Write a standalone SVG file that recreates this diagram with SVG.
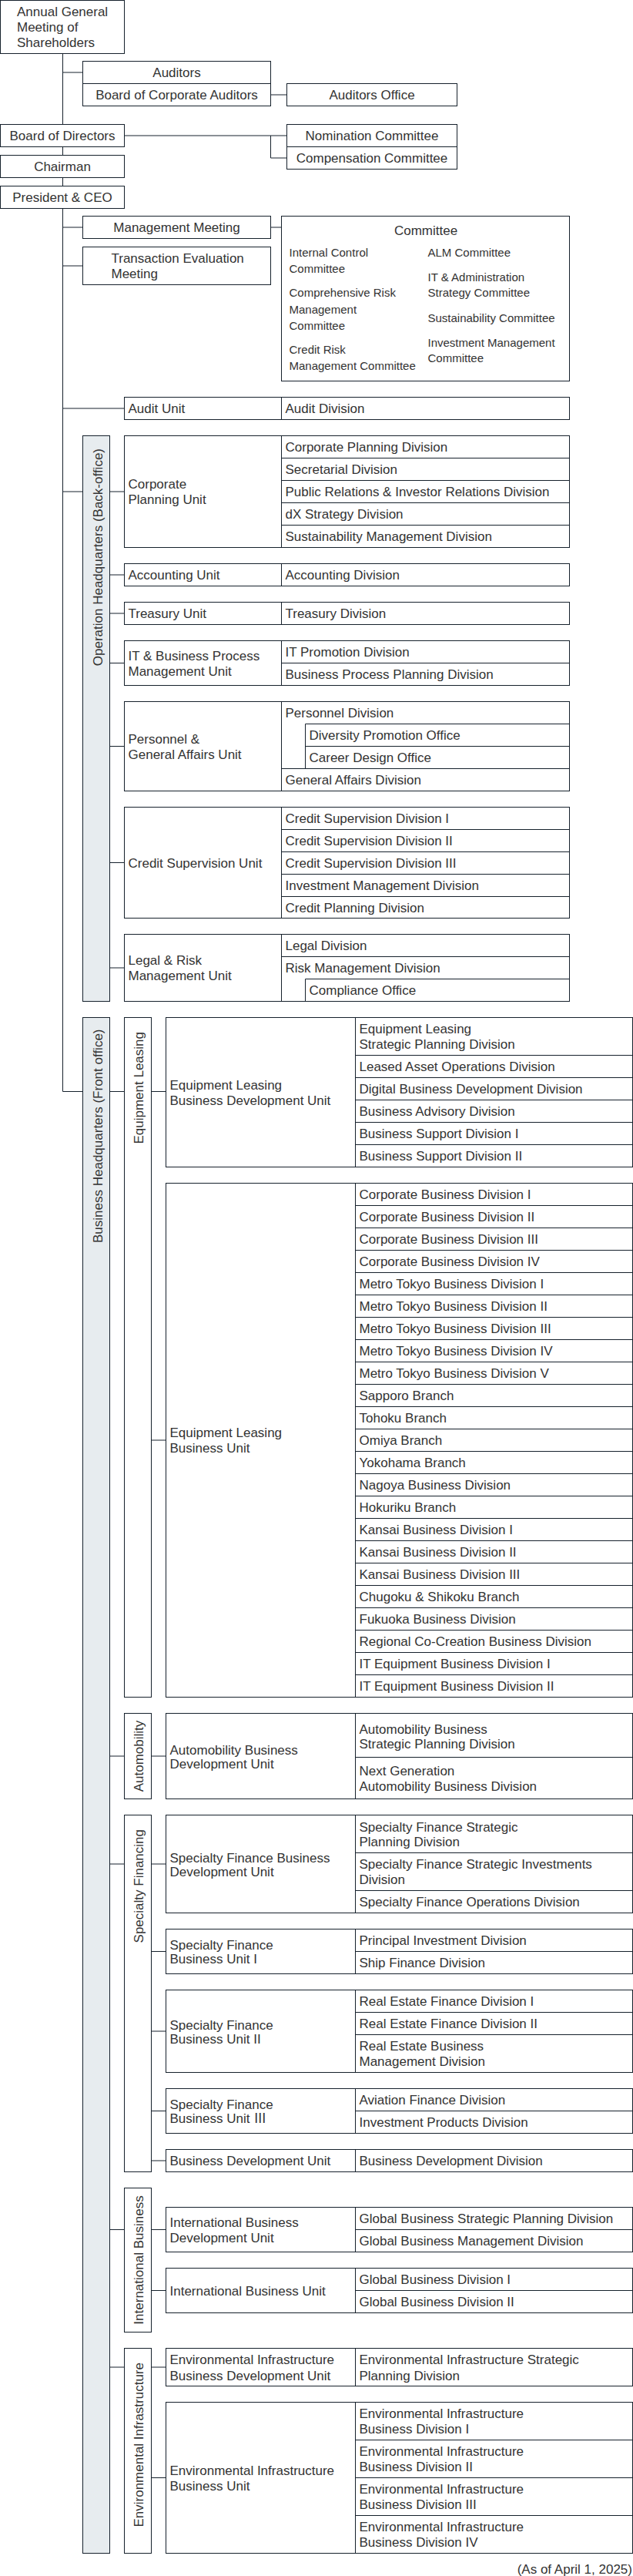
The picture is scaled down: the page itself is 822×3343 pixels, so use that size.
<svg xmlns="http://www.w3.org/2000/svg" width="822" height="3343" viewBox="0 0 822 3343">
<style>
.b{fill:#fff;stroke:#16212c;stroke-width:1}
.band{fill:#e7ecef;stroke:#16212c;stroke-width:1}
.ln{fill:none;stroke:#16212c;stroke-width:1}
text{font-family:"Liberation Sans","Noto Sans CJK JP",Arial,sans-serif;font-size:17px;fill:#333}
.m{text-anchor:middle}
.e{text-anchor:end}
.s{font-size:15px}
</style>
<rect width="822" height="3343" fill="#fff"/>
<g id="connectors" class="ln">
<path d="M81.5 69.5V1416.5M81.5 94H107.5M351.5 123H372.5M161.5 176H372.5M351.5 176V205H372.5M81.5 295H107.5M351.5 295H365.5M81.5 345H107.5M81.5 530H161.5M81.5 638H107.5M81.5 1416.5H107.5"/>
<path d="M142.5 638H161.5M142.5 746H161.5M142.5 796H161.5M142.5 860.5H161.5M142.5 968.5H161.5M142.5 1119.5H161.5M142.5 1256H161.5"/>
<path d="M142.5 1416.5H161.5M142.5 2279H161.5M142.5 2419H161.5M142.5 2893.5H161.5M142.5 3072H161.5"/>
<path d="M196.5 1416.5H215.5M196.5 1869H215.5M196.5 2279H215.5M196.5 2419H215.5M196.5 2532.5H215.5M196.5 2636H215.5M196.5 2739.5H215.5M196.5 2804H215.5M196.5 2893.5H215.5M196.5 2972.5H215.5M196.5 3072H215.5M196.5 3215.5H215.5"/>
</g>
<g id="agm"><rect class="b" x="0.5" y="0.5" width="161" height="69"/><text x="22" y="21">Annual General</text><text x="22" y="40.5">Meeting of</text><text x="22" y="60.5">Shareholders</text></g>
<g id="auditors"><rect class="b" x="107.5" y="79.5" width="244" height="29"/><text class="m" x="229.5" y="100">Auditors</text></g>
<g id="board-auditors"><rect class="b" x="107.5" y="108.5" width="244" height="29"/><text class="m" x="229.5" y="129">Board of Corporate Auditors</text></g>
<g id="auditors-office"><rect class="b" x="372.5" y="108.5" width="221" height="29"/><text class="m" x="483" y="129">Auditors Office</text></g>
<g id="board-directors"><rect class="b" x="0.5" y="161.5" width="161" height="29"/><text class="m" x="81" y="182">Board of Directors</text></g>
<g id="nomination"><rect class="b" x="372.5" y="161.5" width="221" height="29"/><text class="m" x="483" y="182">Nomination Committee</text></g>
<g id="compensation"><rect class="b" x="372.5" y="190.5" width="221" height="29"/><text class="m" x="483" y="211">Compensation Committee</text></g>
<g id="chairman"><rect class="b" x="0.5" y="201.5" width="161" height="29"/><text class="m" x="81" y="222">Chairman</text></g>
<g id="president"><rect class="b" x="0.5" y="241.5" width="161" height="29"/><text class="m" x="81" y="262">President &amp; CEO</text></g>
<g id="management-meeting"><rect class="b" x="107.5" y="280.5" width="244" height="29"/><text class="m" x="229.5" y="301">Management Meeting</text></g>
<g id="transaction-meeting"><rect class="b" x="107.5" y="320.5" width="244" height="49"/><text x="144.5" y="341">Transaction Evaluation</text><text x="144.5" y="361">Meeting</text></g>
<g id="committee"><rect class="b" x="365.5" y="280.5" width="374" height="214"/><text class="m" x="553" y="305">Committee</text>
<text class="s" x="375.5" y="332.7">Internal Control</text><text class="s" x="375.5" y="353.7">Committee</text>
<text class="s" x="375.5" y="385.4">Comprehensive Risk</text><text class="s" x="375.5" y="406.7">Management</text><text class="s" x="375.5" y="427.7">Committee</text>
<text class="s" x="375.5" y="459.4">Credit Risk</text><text class="s" x="375.5" y="480.4">Management Committee</text>
<text class="s" x="555.5" y="332.7">ALM Committee</text>
<text class="s" x="555.5" y="364.7">IT &amp; Administration</text><text class="s" x="555.5" y="385.4">Strategy Committee</text>
<text class="s" x="555.5" y="417.7">Sustainability Committee</text>
<text class="s" x="555.5" y="449.7">Investment Management</text><text class="s" x="555.5" y="470.4">Committee</text></g>
<g id="audit-unit"><rect class="b" x="161.5" y="515.5" width="578" height="29"/><path class="ln" d="M365.5 515.5V544.5"/><text x="166.5" y="536">Audit Unit</text><text x="370.5" y="536">Audit Division</text></g>
<g id="operation-hq"><rect class="band" x="107.5" y="565.5" width="35" height="734"/><text class="e" transform="translate(132.5 582) rotate(-90)">Operation Headquarters (Back-office)</text></g>
<g id="corporate-planning-unit"><rect class="b" x="161.5" y="565.5" width="578" height="145"/><path class="ln" d="M365.5 565.5V710.5M365.5 594.5H739.5M365.5 623.5H739.5M365.5 652.5H739.5M365.5 681.5H739.5"/>
<text x="166.5" y="634">Corporate</text><text x="166.5" y="654">Planning Unit</text>
<text x="370.5" y="586">Corporate Planning Division</text><text x="370.5" y="615">Secretarial Division</text><text x="370.5" y="644">Public Relations &amp; Investor Relations Division</text><text x="370.5" y="673">dX Strategy Division</text><text x="370.5" y="702">Sustainability Management Division</text></g>
<g id="accounting-unit"><rect class="b" x="161.5" y="731.5" width="578" height="29"/><path class="ln" d="M365.5 731.5V760.5"/><text x="166.5" y="752">Accounting Unit</text><text x="370.5" y="752">Accounting Division</text></g>
<g id="treasury-unit"><rect class="b" x="161.5" y="781.5" width="578" height="29"/><path class="ln" d="M365.5 781.5V810.5"/><text x="166.5" y="802">Treasury Unit</text><text x="370.5" y="802">Treasury Division</text></g>
<g id="it-bp-unit"><rect class="b" x="161.5" y="831.5" width="578" height="58"/><path class="ln" d="M365.5 831.5V889.5M365.5 860.5H739.5"/>
<text x="166.5" y="856.5">IT &amp; Business Process</text><text x="166.5" y="876.5">Management Unit</text>
<text x="370.5" y="852">IT Promotion Division</text><text x="370.5" y="881">Business Process Planning Division</text></g>
<g id="personnel-unit"><rect class="b" x="161.5" y="910.5" width="578" height="116"/><path class="ln" d="M365.5 910.5V1026.5M396.5 939.5H739.5M396.5 939.5V997.5M396.5 968.5H739.5M365.5 997.5H739.5"/>
<text x="166.5" y="964.5">Personnel &amp;</text><text x="166.5" y="984.5">General Affairs Unit</text>
<text x="370.5" y="931">Personnel Division</text><text x="401.5" y="960">Diversity Promotion Office</text><text x="401.5" y="989">Career Design Office</text><text x="370.5" y="1018">General Affairs Division</text></g>
<g id="credit-unit"><rect class="b" x="161.5" y="1047.5" width="578" height="144"/><path class="ln" d="M365.5 1047.5V1191.5M365.5 1076.5H739.5M365.5 1105.5H739.5M365.5 1134.5H739.5M365.5 1163.5H739.5"/>
<text x="166.5" y="1125.5">Credit Supervision Unit</text>
<text x="370.5" y="1068">Credit Supervision Division I</text><text x="370.5" y="1097">Credit Supervision Division II</text><text x="370.5" y="1126">Credit Supervision Division III</text><text x="370.5" y="1155">Investment Management Division</text><text x="370.5" y="1183.5">Credit Planning Division</text></g>
<g id="legal-unit"><rect class="b" x="161.5" y="1212.5" width="578" height="87"/><path class="ln" d="M365.5 1212.5V1299.5M365.5 1241.5H739.5M396.5 1270.5H739.5M396.5 1270.5V1299.5"/>
<text x="166.5" y="1252">Legal &amp; Risk</text><text x="166.5" y="1272">Management Unit</text>
<text x="370.5" y="1233">Legal Division</text><text x="370.5" y="1262">Risk Management Division</text><text x="401.5" y="1291">Compliance Office</text></g>
<g id="business-hq"><rect class="band" x="107.5" y="1320.5" width="35" height="1993"/><text class="e" transform="translate(132.5 1335.5) rotate(-90)">Business Headquarters (Front office)</text></g>
<g id="equipment-leasing"><rect class="b" x="161.5" y="1320.5" width="35" height="882"/><text class="e" transform="translate(186 1339) rotate(-90)">Equipment Leasing</text></g>
<g id="el-bd-unit"><rect class="b" x="215.5" y="1320.5" width="606" height="194"/><path class="ln" d="M461.5 1320.5V1514.5M461.5 1369.5H821.5M461.5 1398.5H821.5M461.5 1427.5H821.5M461.5 1456.5H821.5M461.5 1485.5H821.5"/>
<text x="220.5" y="1413.5">Equipment Leasing</text><text x="220.5" y="1433.5">Business Development Unit</text>
<text x="466.5" y="1341">Equipment Leasing</text><text x="466.5" y="1361">Strategic Planning Division</text>
<text x="466.5" y="1390">Leased Asset Operations Division</text><text x="466.5" y="1419">Digital Business Development Division</text><text x="466.5" y="1448">Business Advisory Division</text><text x="466.5" y="1477">Business Support Division I</text><text x="466.5" y="1506">Business Support Division II</text></g>
<g id="el-business-unit"><rect class="b" x="215.5" y="1535.5" width="606" height="667"/><path class="ln" d="M461.5 1535.5V2202.5M461.5 1564.5H821.5M461.5 1593.5H821.5M461.5 1622.5H821.5M461.5 1651.5H821.5M461.5 1680.5H821.5M461.5 1709.5H821.5M461.5 1738.5H821.5M461.5 1767.5H821.5M461.5 1796.5H821.5M461.5 1825.5H821.5M461.5 1854.5H821.5M461.5 1883.5H821.5M461.5 1912.5H821.5M461.5 1941.5H821.5M461.5 1970.5H821.5M461.5 1999.5H821.5M461.5 2028.5H821.5M461.5 2057.5H821.5M461.5 2086.5H821.5M461.5 2115.5H821.5M461.5 2144.5H821.5M461.5 2173.5H821.5"/>
<text x="220.5" y="1865">Equipment Leasing</text><text x="220.5" y="1885">Business Unit</text>
<text x="466.5" y="1556">Corporate Business Division I</text>
<text x="466.5" y="1585">Corporate Business Division II</text>
<text x="466.5" y="1614">Corporate Business Division III</text>
<text x="466.5" y="1643">Corporate Business Division IV</text>
<text x="466.5" y="1672">Metro Tokyo Business Division I</text>
<text x="466.5" y="1701">Metro Tokyo Business Division II</text>
<text x="466.5" y="1730">Metro Tokyo Business Division III</text>
<text x="466.5" y="1759">Metro Tokyo Business Division IV</text>
<text x="466.5" y="1788">Metro Tokyo Business Division V</text>
<text x="466.5" y="1817">Sapporo Branch</text>
<text x="466.5" y="1846">Tohoku Branch</text>
<text x="466.5" y="1875">Omiya Branch</text>
<text x="466.5" y="1904">Yokohama Branch</text>
<text x="466.5" y="1933">Nagoya Business Division</text>
<text x="466.5" y="1962">Hokuriku Branch</text>
<text x="466.5" y="1991">Kansai Business Division I</text>
<text x="466.5" y="2020">Kansai Business Division II</text>
<text x="466.5" y="2049">Kansai Business Division III</text>
<text x="466.5" y="2078">Chugoku &amp; Shikoku Branch</text>
<text x="466.5" y="2107">Fukuoka Business Division</text>
<text x="466.5" y="2136">Regional Co-Creation Business Division</text>
<text x="466.5" y="2165">IT Equipment Business Division I</text>
<text x="466.5" y="2194">IT Equipment Business Division II</text></g>
<g id="automobility"><rect class="b" x="161.5" y="2223.5" width="35" height="111"/><text class="m" transform="translate(186 2279) rotate(-90)">Automobility</text></g>
<g id="auto-bd-unit"><rect class="b" x="215.5" y="2223.5" width="606" height="111"/><path class="ln" d="M461.5 2223.5V2334.5M461.5 2280.5H821.5"/>
<text x="220.5" y="2276.5">Automobility Business</text><text x="220.5" y="2294.5">Development Unit</text>
<text x="466.5" y="2249.5">Automobility Business</text><text x="466.5" y="2269">Strategic Planning Division</text>
<text x="466.5" y="2303.5">Next Generation</text><text x="466.5" y="2323.5">Automobility Business Division</text></g>
<g id="specialty-financing"><rect class="b" x="161.5" y="2355.5" width="35" height="463"/><text class="e" transform="translate(186 2374) rotate(-90)">Specialty Financing</text></g>
<g id="sf-bd-unit"><rect class="b" x="215.5" y="2355.5" width="606" height="127"/><path class="ln" d="M461.5 2355.5V2482.5M461.5 2404.5H821.5M461.5 2453.5H821.5"/>
<text x="220.5" y="2416.5">Specialty Finance Business</text><text x="220.5" y="2434.5">Development Unit</text>
<text x="466.5" y="2376.5">Specialty Finance Strategic</text><text x="466.5" y="2396">Planning Division</text>
<text x="466.5" y="2425">Specialty Finance Strategic Investments</text><text x="466.5" y="2445">Division</text>
<text x="466.5" y="2474">Specialty Finance Operations Division</text></g>
<g id="sf-unit-1"><rect class="b" x="215.5" y="2503.5" width="606" height="58"/><path class="ln" d="M461.5 2503.5V2561.5M461.5 2532.5H821.5"/>
<text x="220.5" y="2529.5">Specialty Finance</text><text x="220.5" y="2547.5">Business Unit I</text>
<text x="466.5" y="2524">Principal Investment Division</text><text x="466.5" y="2553">Ship Finance Division</text></g>
<g id="sf-unit-2"><rect class="b" x="215.5" y="2582.5" width="606" height="107"/><path class="ln" d="M461.5 2582.5V2689.5M461.5 2611.5H821.5M461.5 2640.5H821.5"/>
<text x="220.5" y="2633.5">Specialty Finance</text><text x="220.5" y="2651.5">Business Unit II</text>
<text x="466.5" y="2603">Real Estate Finance Division I</text><text x="466.5" y="2632">Real Estate Finance Division II</text>
<text x="466.5" y="2661">Real Estate Business</text><text x="466.5" y="2681">Management Division</text></g>
<g id="sf-unit-3"><rect class="b" x="215.5" y="2710.5" width="606" height="58"/><path class="ln" d="M461.5 2710.5V2768.5M461.5 2739.5H821.5"/>
<text x="220.5" y="2736.5">Specialty Finance</text><text x="220.5" y="2754.5">Business Unit Ⅲ</text>
<text x="466.5" y="2731">Aviation Finance Division</text><text x="466.5" y="2760">Investment Products Division</text></g>
<g id="bd-unit"><rect class="b" x="215.5" y="2789.5" width="606" height="29"/><path class="ln" d="M461.5 2789.5V2818.5"/>
<text x="220.5" y="2810">Business Development Unit</text><text x="466.5" y="2810">Business Development Division</text></g>
<g id="international-business"><rect class="b" x="161.5" y="2839.5" width="35" height="187"/><text class="m" transform="translate(186 2933) rotate(-90)">International Business</text></g>
<g id="ib-dev-unit"><rect class="b" x="215.5" y="2864.5" width="606" height="58"/><path class="ln" d="M461.5 2864.5V2922.5M461.5 2893.5H821.5"/>
<text x="220.5" y="2889.5">International Business</text><text x="220.5" y="2909.5">Development Unit</text>
<text x="466.5" y="2885">Global Business Strategic Planning Division</text><text x="466.5" y="2914">Global Business Management Division</text></g>
<g id="ib-unit"><rect class="b" x="215.5" y="2943.5" width="606" height="58"/><path class="ln" d="M461.5 2943.5V3001.5M461.5 2972.5H821.5"/>
<text x="220.5" y="2978.5">International Business Unit</text>
<text x="466.5" y="2964">Global Business Division I</text><text x="466.5" y="2993">Global Business Division II</text></g>
<g id="environmental-infrastructure"><rect class="b" x="161.5" y="3047.5" width="35" height="266"/><text class="e" transform="translate(186 3066) rotate(-90)">Environmental Infrastructure</text></g>
<g id="ei-bd-unit"><rect class="b" x="215.5" y="3047.5" width="606" height="49"/><path class="ln" d="M461.5 3047.5V3096.5"/>
<text x="220.5" y="3068">Environmental Infrastructure</text><text x="220.5" y="3088.5">Business Development Unit</text>
<text x="466.5" y="3068">Environmental Infrastructure Strategic</text><text x="466.5" y="3088.5">Planning Division</text></g>
<g id="ei-business-unit"><rect class="b" x="215.5" y="3117.5" width="606" height="196"/><path class="ln" d="M461.5 3117.5V3313.5M461.5 3166.5H821.5M461.5 3215.5H821.5M461.5 3264.5H821.5"/>
<text x="220.5" y="3211.5">Environmental Infrastructure</text><text x="220.5" y="3231.5">Business Unit</text>
<text x="466.5" y="3138">Environmental Infrastructure</text><text x="466.5" y="3158">Business Division I</text>
<text x="466.5" y="3187">Environmental Infrastructure</text><text x="466.5" y="3207">Business Division II</text>
<text x="466.5" y="3236">Environmental Infrastructure</text><text x="466.5" y="3256">Business Division III</text>
<text x="466.5" y="3285">Environmental Infrastructure</text><text x="466.5" y="3305">Business Division IV</text></g>
<text class="e" x="821" y="3340">(As of April 1, 2025)</text>
</svg>
